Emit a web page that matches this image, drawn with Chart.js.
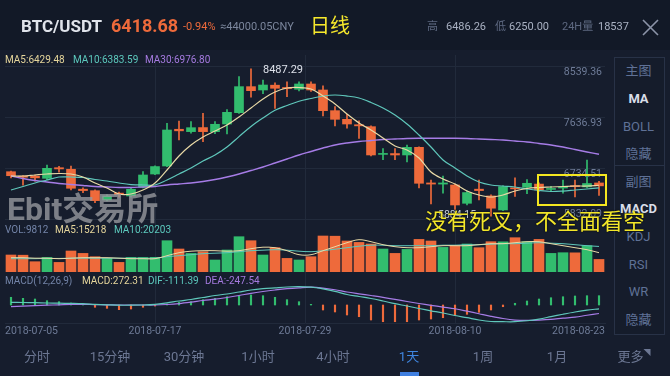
<!DOCTYPE html>
<html>
<head>
<meta charset="utf-8">
<script src="https://cdn.jsdelivr.net/npm/chart.js@4.4.1/dist/chart.umd.min.js"></script>
<style>
  body { margin: 0; width: 670px; height: 376px; overflow: hidden; background: #161d2d; position: relative;
         font-family: Roboto, "Noto Sans CJK SC", sans-serif; }
  .a { position: absolute; white-space: nowrap; line-height: 1; }
  .side { position: absolute; left: 614px; width: 49px; border: 1px solid #283247; background: #151c2b; }
  .sb { position: absolute; width: 49px; left: 614px; text-align: center; font-size: 13px; color: #5f7196; line-height: 1; }
  .tab { position: absolute; top: 350px; font-size: 13px; color: #6c7793; line-height: 1; transform: translateX(-50%); }
</style>
</head>
<body>
<div class="a" style="left:0;top:0;width:670px;height:50px;background:#121927"></div>
<canvas id="kline" width="670" height="376" style="position:absolute;left:0;top:0"></canvas>

<!-- header -->
<div class="a" style="left:21px;top:18px;font-size:17px;font-weight:bold;color:#dfe3ea">BTC/USDT</div>
<div class="a" style="left:111px;top:17px;font-size:18px;font-weight:bold;color:#ee6a3b">6418.68</div>
<div class="a" style="left:183px;top:21px;font-size:11px;color:#ee6a3b">-0.94%</div>
<div class="a" style="left:220px;top:21px;font-size:11px;color:#7b869c">≈44000.05CNY</div>
<div class="a" style="left:310px;top:16px;font-size:20px;color:#f6e82c">日线</div>
<div class="a" style="left:427px;top:21px;font-size:11px;color:#5d6880">高</div>
<div class="a" style="left:446px;top:21px;font-size:11px;color:#a9b1c2">6486.26</div>
<div class="a" style="left:495px;top:21px;font-size:11px;color:#5d6880">低</div>
<div class="a" style="left:509px;top:21px;font-size:11px;color:#a9b1c2">6250.00</div>
<div class="a" style="left:562px;top:21px;font-size:11px;color:#5d6880">24H量</div>
<div class="a" style="left:598px;top:21px;font-size:11px;color:#a9b1c2">18537</div>
<svg class="a" style="left:642px;top:19px" width="17" height="17"><path d="M1 1 L16 16 M16 1 L1 16" stroke="#8b94a8" stroke-width="1.6"/></svg>

<!-- indicator legends -->
<div class="a" style="left:5px;top:55px;font-size:10px;color:#e5d59b">MA5:6429.48</div>
<div class="a" style="left:73px;top:55px;font-size:10px;color:#5cc9bd">MA10:6383.59</div>
<div class="a" style="left:145px;top:55px;font-size:10px;color:#a57ae0">MA30:6976.80</div>
<div class="a" style="left:263px;top:64px;font-size:11px;color:#dde1ea">8487.29</div>
<div class="a" style="left:438px;top:210px;font-size:10.5px;color:#c9ced8">5884.15</div>
<div class="a" style="left:5px;top:225px;font-size:10px;color:#7384a8">VOL:9812</div>
<div class="a" style="left:55px;top:225px;font-size:10px;color:#e5d59b">MA5:15218</div>
<div class="a" style="left:114px;top:225px;font-size:10px;color:#5cc9bd">MA10:20203</div>
<div class="a" style="left:5px;top:276px;font-size:10px;color:#7384a8">MACD(12,26,9)</div>
<div class="a" style="left:82px;top:276px;font-size:10px;color:#e5d59b">MACD:272.31</div>
<div class="a" style="left:148px;top:276px;font-size:10px;color:#5cc9bd">DIF:-111.39</div>
<div class="a" style="left:205px;top:276px;font-size:10px;color:#a57ae0">DEA:-247.54</div>

<!-- side panel -->
<div class="side" style="top:57px;height:108px"></div>
<div class="side" style="top:165px;height:168px"></div>
<div class="sb" style="top:64px">主图</div>
<div class="sb" style="top:92px;font-weight:bold;color:#d9dee8">MA</div>
<div class="sb" style="top:120px">BOLL</div>
<div class="sb" style="top:147px">隐藏</div>
<div class="sb" style="top:175px">副图</div>
<div class="sb" style="top:202px;font-weight:bold;color:#d9dee8">MACD</div>
<div class="sb" style="top:230px">KDJ</div>
<div class="sb" style="top:258px">RSI</div>
<div class="sb" style="top:285px">WR</div>
<div class="sb" style="top:313px">隐藏</div>

<!-- watermark and notes -->
<div class="a" style="left:7px;top:193px;font-size:32px;font-weight:bold;color:rgba(150,152,158,0.8)">Ebit交易所</div>
<div class="a" style="left:537px;top:174px;width:66px;height:28px;border:2.5px solid #f4e720"></div>
<div class="a" style="left:425px;top:211px;font-size:22px;color:#f2e62a;text-shadow:0 0 2px #000">没有死叉，不全面看空</div>

<!-- period tabs -->
<div class="tab" style="left:37px">分时</div>
<div class="tab" style="left:110px">15分钟</div>
<div class="tab" style="left:184px">30分钟</div>
<div class="tab" style="left:258px">1小时</div>
<div class="tab" style="left:333px">4小时</div>
<div class="tab" style="left:409px;color:#3f86e0">1天</div>
<div class="tab" style="left:483px">1周</div>
<div class="tab" style="left:557px">1月</div>
<div class="tab" style="left:634px">更多<span style="font-size:7px;vertical-align:top">◥</span></div>
<div class="a" style="left:400px;top:372px;width:19px;height:4px;background:#3f7fe0"></div>

<script>
const dates = [
  '2018-07-05','2018-07-06','2018-07-07','2018-07-08','2018-07-09','2018-07-10','2018-07-11','2018-07-12','2018-07-13','2018-07-14',
  '2018-07-15','2018-07-16','2018-07-17','2018-07-18','2018-07-19','2018-07-20','2018-07-21','2018-07-22','2018-07-23','2018-07-24',
  '2018-07-25','2018-07-26','2018-07-27','2018-07-28','2018-07-29','2018-07-30','2018-07-31','2018-08-01','2018-08-02','2018-08-03',
  '2018-08-04','2018-08-05','2018-08-06','2018-08-07','2018-08-08','2018-08-09','2018-08-10','2018-08-11','2018-08-12','2018-08-13',
  '2018-08-14','2018-08-15','2018-08-16','2018-08-17','2018-08-18','2018-08-19','2018-08-20','2018-08-21','2018-08-22','2018-08-23'
];
const dateTicks = ['2018-07-05', '2018-07-17', '2018-07-29', '2018-08-10', '2018-08-23'];
const priceTicks = [5832.09, 6734.51, 7636.93, 8539.36];

const opens = [6669,6590,6590,6552,6740,6712,6360,6333,6169,6290, 6240,6393,6628,6770,7420,7378,7450,7377,7513,7714,
  8174,8115,8200,8160,8128,8221,8115,7749,7596,7500, 7466,6975,6990,6965,7100,6470,6450,6434,6110,6360,
  6240,5992,6380,6393,6450,6355,6380,6420,6400,6470];
const closes = [6598,6570,6560,6729,6718,6376,6335,6157,6240,6262, 6358,6611,6760,7407,7392,7448,7378,7508,7720,8174,
  8103,8203,8145,8140,8221,8115,7749,7596,7513,7480, 6965,6990,6965,7100,6464,6450,6470,6080,6300,6335,
  6023,6405,6365,6464,6346,6372,6395,6405,6460,6418.68];
const highs = [6681,6600,6610,6788,6765,6770,6385,6350,6262,6310, 6380,6670,6775,7525,7566,7555,7700,7555,7770,8350,
  8487.29,8290,8240,8260,8260,8260,8190,7820,7685,7570, 7480,7080,7080,7140,7110,6520,6590,6450,6330,6520,
  6260,6420,6560,6530,6470,6410,6520,6520,6875,6500];
const lows = [6557,6430,6500,6522,6660,6345,6300,6120,6150,6220, 6220,6380,6615,6760,7230,7350,7200,7340,7336,7700,
  7990,8050,7790,7995,8100,8090,7655,7478,7440,7260, 6950,6880,6880,6840,6380,6100,6290,6000,6080,6170,
  5884.15,5980,6230,6280,6320,6320,6290,6225,6380,6250];

const ma5 = [6593,6593,6611,6628,6637,6628,6575,6469,6381,6274, 6274,6345,6469,6699,6947,7141,7283,7389,7495,7637,
  7796,7955,8079,8150,8159,8132,8008,7867,7690,7531, 7407,7265,7124,7053,6912,6664,6540,6452,6327,6257,
  6221,6257,6327,6372,6389,6398,6407,6416,6416,6429.48];
const ma10 = [6345,6407,6469,6522,6575,6575,6566,6531,6504,6469, 6442,6434,6434,6522,6628,6735,6858,6965,7106,7290,
  7470,7620,7755,7840,7915,7964,8008,8026,8008,7973, 7894,7796,7672,7513,7318,7106,6876,6735,6593,6487,
  6434,6416,6398,6363,6336,6319,6327,6345,6363,6383.59];
const ma30 = [6593,6549,6513,6487,6461,6443,6425,6408,6399,6390, 6390,6399,6408,6434,6452,6470,6496,6531,6576,6628,
  6690,6752,6823,6894,6965,7027,7089,7142,7177,7203, 7221,7239,7248,7256,7260,7260,7260,7260,7256,7248,
  7239,7230,7212,7195,7168,7142,7106,7062,7018,6976.80];

const volumes = [13360,13200,8000,11440,7440,16560,14640,12000,10640,7440, 11440,11400,11500,24800,18160,14640,16000,9360,17360,28000,
  24800,13360,19200,10640,9360,12000,28560,28400,24560,23440, 22160,18160,14640,17840,25840,24560,19440,20800,22160,19200,
  24000,23900,27200,24000,25840,14640,15200,15100,20800,9812];
const volMa5 = [11200,11200,10800,10800,10400,10800,11200,11200,11200,10800, 10400,10400,10400,12800,15200,16400,16800,16800,16400,16800,
  18400,19600,19200,16800,13600,13600,16800,20000,23200,25600, 24000,21600,20000,19200,19200,20000,20800,20800,20800,21600,
  22400,22400,23200,24000,24000,22400,20800,19200,17600,15218];
const volMa10 = [10400,10400,10400,10600,10600,10800,10800,10800,10800,10800, 10800,10800,10800,12000,12800,13600,14400,14800,15200,16000,
  16800,17200,17600,17200,16400,16000,16800,18000,19200,20400, 21200,21200,20800,20800,20800,20800,21200,21200,21600,21600,
  22000,22400,22400,22800,23200,22800,22400,21600,20800,20203];

const macdBar = [225,195,175,126,97,58,20,-67,-97,-136, -117,-67,-30,29,78,97,156,195,243,272,
  292,272,225,156,97,20,-146,-204,-292,-342, -438,-488,-488,-488,-438,-409,-371,-312,-272,-213,
  -146,-50,50,117,175,213,242,263,272,272.31];
const dif = [79,73,67,58,53,47,38,20,6,-6, -6,0,20,64,117,161,219,277,321,380,
  438,476,502,526,534,520,470,400,307,248, 190,117,38,-29,-102,-169,-234,-307,-371,-438,
  -482,-488,-488,-460,-410,-340,-270,-205,-150,-111.39];
const dea = [-50,-35,-20,-6,6,18,18,12,6,0, 0,0,0,15,41,82,131,169,219,277,
  342,394,438,476,502,520,495,445,380,327, 277,225,166,102,44,-10,-60,-110,-180,-255,
  -330,-395,-440,-450,-440,-420,-385,-355,-300,-247.54];

const UP = '#32bd6e';
const DOWN = '#ee6a3b';
const GRID = '#212a3b';
const AXIS_TEXT = '#6e7b97';

const candleColors = closes.map((c, i) => (c >= opens[i] ? UP : DOWN));
const macdColors = macdBar.map((v) => (v >= 0 ? UP : DOWN));

function lineSet(data, color, axis, width) {
  return {
    type: 'line',
    data: data,
    yAxisID: axis,
    borderColor: color,
    borderWidth: width,
    pointRadius: 0,
    tension: 0.35,
    order: 0,
  };
}

new Chart(document.getElementById('kline'), {
  type: 'bar',
  data: {
    labels: dates,
    datasets: [
      lineSet(ma5, '#e8d9a6', 'y', 1.2),
      lineSet(ma10, '#5fc7bb', 'y', 1.2),
      lineSet(ma30, '#a67ce6', 'y', 1.4),
      lineSet(volMa5, '#e8d9a6', 'yv', 1),
      lineSet(volMa10, '#5fc7bb', 'yv', 1),
      lineSet(dif, '#5fc7bb', 'ym', 1.2),
      lineSet(dea, '#a67ce6', 'ym', 1.2),
      {
        data: opens.map((o, i) => [o, closes[i]]),
        backgroundColor: candleColors,
        barThickness: 9,
        minBarLength: 1,
        grouped: false,
        order: 1,
      },
      {
        data: lows.map((l, i) => [l, highs[i]]),
        backgroundColor: candleColors,
        barThickness: 1,
        grouped: false,
        order: 2,
      },
      {
        data: volumes,
        yAxisID: 'yv',
        backgroundColor: candleColors,
        barThickness: 10,
        grouped: false,
        order: 2,
      },
      {
        data: macdBar,
        yAxisID: 'ym',
        backgroundColor: macdColors,
        barThickness: 1.5,
        grouped: false,
        order: 2,
      },
    ],
  },
  options: {
    responsive: false,
    animation: false,
    events: [],
    layout: { padding: { left: 5, right: 65, top: 55, bottom: 33 } },
    plugins: { legend: { display: false }, tooltip: { enabled: false } },
    scales: {
      x: { type: 'category', display: false, offset: true },
      xg: {
        type: 'linear',
        position: 'bottom',
        min: 0,
        max: 4,
        offset: false,
        afterBuildTicks: (s) => { s.ticks = dateTicks.map((d, i) => ({ value: i })); },
        afterFit: (s) => { s.height = 20; },
        grid: { offset: false, color: (c) => (c.index === 0 || c.index === 4 ? 'rgba(0,0,0,0)' : GRID), drawTicks: false },
        border: { display: true, color: GRID },
        ticks: {
          align: 'inner',
          padding: 2,
          maxRotation: 0,
          autoSkip: false,
          color: AXIS_TEXT,
          font: { size: 10.5, family: 'Roboto' },
          callback: (v, i) => dateTicks[i],
        },
      },
      y: {
        position: 'right',
        min: 3991.9,
        max: 8734.0,
        afterBuildTicks: (s) => { s.ticks = priceTicks.map((v) => ({ value: v })); },
        afterFit: (s) => { s.width = 0; },
        grid: { color: GRID, drawTicks: false },
        border: { display: false },
        ticks: {
          mirror: true,
          padding: -3,
          crossAlign: 'near',
          labelOffset: 6,
          color: AXIS_TEXT,
          font: { size: 10.5, family: 'Roboto' },
          callback: (v, i) => (i === 0 ? '' : v.toFixed(2)),
        },
      },
      y2: {
        position: 'right',
        min: 3991.9,
        max: 8734.0,
        afterBuildTicks: (s) => { s.ticks = priceTicks.map((v) => ({ value: v })); },
        afterFit: (s) => { s.width = 0; },
        grid: { display: false, drawTicks: false },
        border: { display: false },
        ticks: {
          mirror: true,
          padding: -3,
          crossAlign: 'near',
          labelOffset: -5,
          color: AXIS_TEXT,
          font: { size: 10.5, family: 'Roboto' },
          callback: (v, i) => (i === 0 ? v.toFixed(2) : ''),
        },
      },
      yv: { display: false, min: -41040, max: 173360 },
      ym: { display: false, min: -525.6, max: 7300 },
    },
  },
});
</script>
</body>
</html>
